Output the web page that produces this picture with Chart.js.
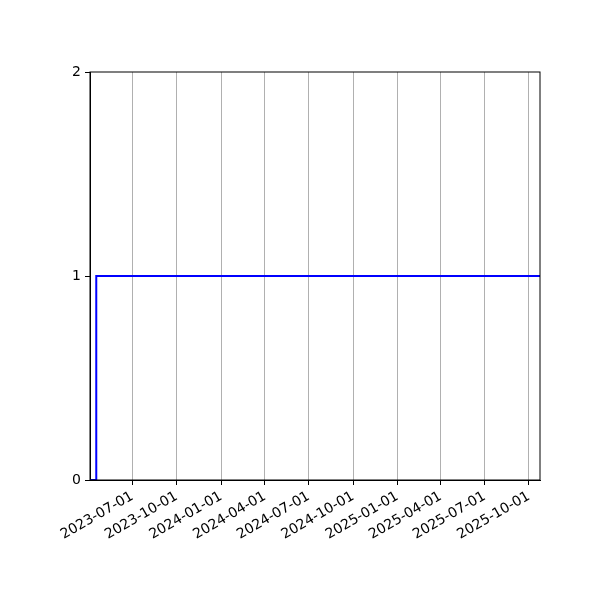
<!DOCTYPE html>
<html>
<head>
<meta charset="utf-8">
<script src="https://cdn.jsdelivr.net/npm/chart.js@4"></script>
<style>
  html, body { margin: 0; padding: 0; background: #fff; }
  #wrap { width: 600px; height: 600px; }
</style>
</head>
<body>
<div id="wrap"><canvas id="chart" width="600" height="600"></canvas></div>
<script>
// step series: dates and counts
const stepDates = ['2023-04-04', '2023-04-17', '2025-10-24'];
const stepValues = [0, 1, 1];
const tickDates = ['2023-07-01', '2023-10-01', '2024-01-01', '2024-04-01', '2024-07-01',
    '2024-10-01', '2025-01-01', '2025-04-01', '2025-07-01', '2025-10-01'];
const yTicks = [0, 1, 2];
const xMinDate = '2023-04-04';
const xMaxDate = '2025-10-24';

const toDay = s => {
    const p = s.split('-').map(Number);
    return Date.UTC(p[0], p[1] - 1, p[2]) / 86400000;
};
const dayLabel = {};
tickDates.forEach(d => { dayLabel[toDay(d)] = d; });

const points = stepDates.map((d, i) => ({ x: toDay(d), y: stepValues[i] }));

const frame = {
    id: 'frame',
    afterDraw(chart) {
        const a = chart.chartArea;
        const ctx = chart.ctx;
        ctx.save();
        ctx.strokeStyle = '#000';
        ctx.lineWidth = 1;
        ctx.strokeRect(a.left, a.top, a.right - a.left, a.bottom - a.top);
        ctx.restore();
    }
};

const font = { family: 'DejaVu Sans', size: 14 };

new Chart(document.getElementById('chart').getContext('2d'), {
    type: 'line',
    data: {
        datasets: [{
            data: points,
            borderColor: '#0000ff',
            borderWidth: 2,
            stepped: 'before',
            pointRadius: 0,
            fill: false
        }]
    },
    options: {
        responsive: false,
        animation: false,
        layout: { padding: { top: 72, right: 60, left: 0, bottom: 0 } },
        plugins: { legend: { display: false }, tooltip: { enabled: false } },
        scales: {
            x: {
                type: 'linear',
                min: toDay(xMinDate),
                max: toDay(xMaxDate),
                afterBuildTicks: axis => {
                    axis.ticks = tickDates.map(d => ({ value: toDay(d) }));
                },
                afterFit: axis => { axis.height = 120; },
                ticks: {
                    autoSkip: false,
                    maxRotation: 30,
                    minRotation: 30,
                    color: '#000',
                    font: font,
                    padding: 3,
                    callback: v => dayLabel[v] || ''
                },
                grid: {
                    color: '#b0b0b0',
                    lineWidth: 1,
                    tickColor: '#000',
                    tickLength: 5,
                    tickWidth: 1
                },
                border: { display: true, color: '#000', width: 1 }
            },
            y: {
                min: 0,
                max: 2,
                afterBuildTicks: axis => {
                    axis.ticks = yTicks.map(v => ({ value: v }));
                },
                afterFit: axis => { axis.width = 90; },
                ticks: {
                    color: '#000',
                    font: font,
                    padding: 4
                },
                grid: {
                    drawOnChartArea: false,
                    tickColor: '#000',
                    tickLength: 5,
                    tickWidth: 1
                },
                border: { display: true, color: '#000', width: 1 }
            }
        }
    },
    plugins: [frame]
});
</script>
</body>
</html>
